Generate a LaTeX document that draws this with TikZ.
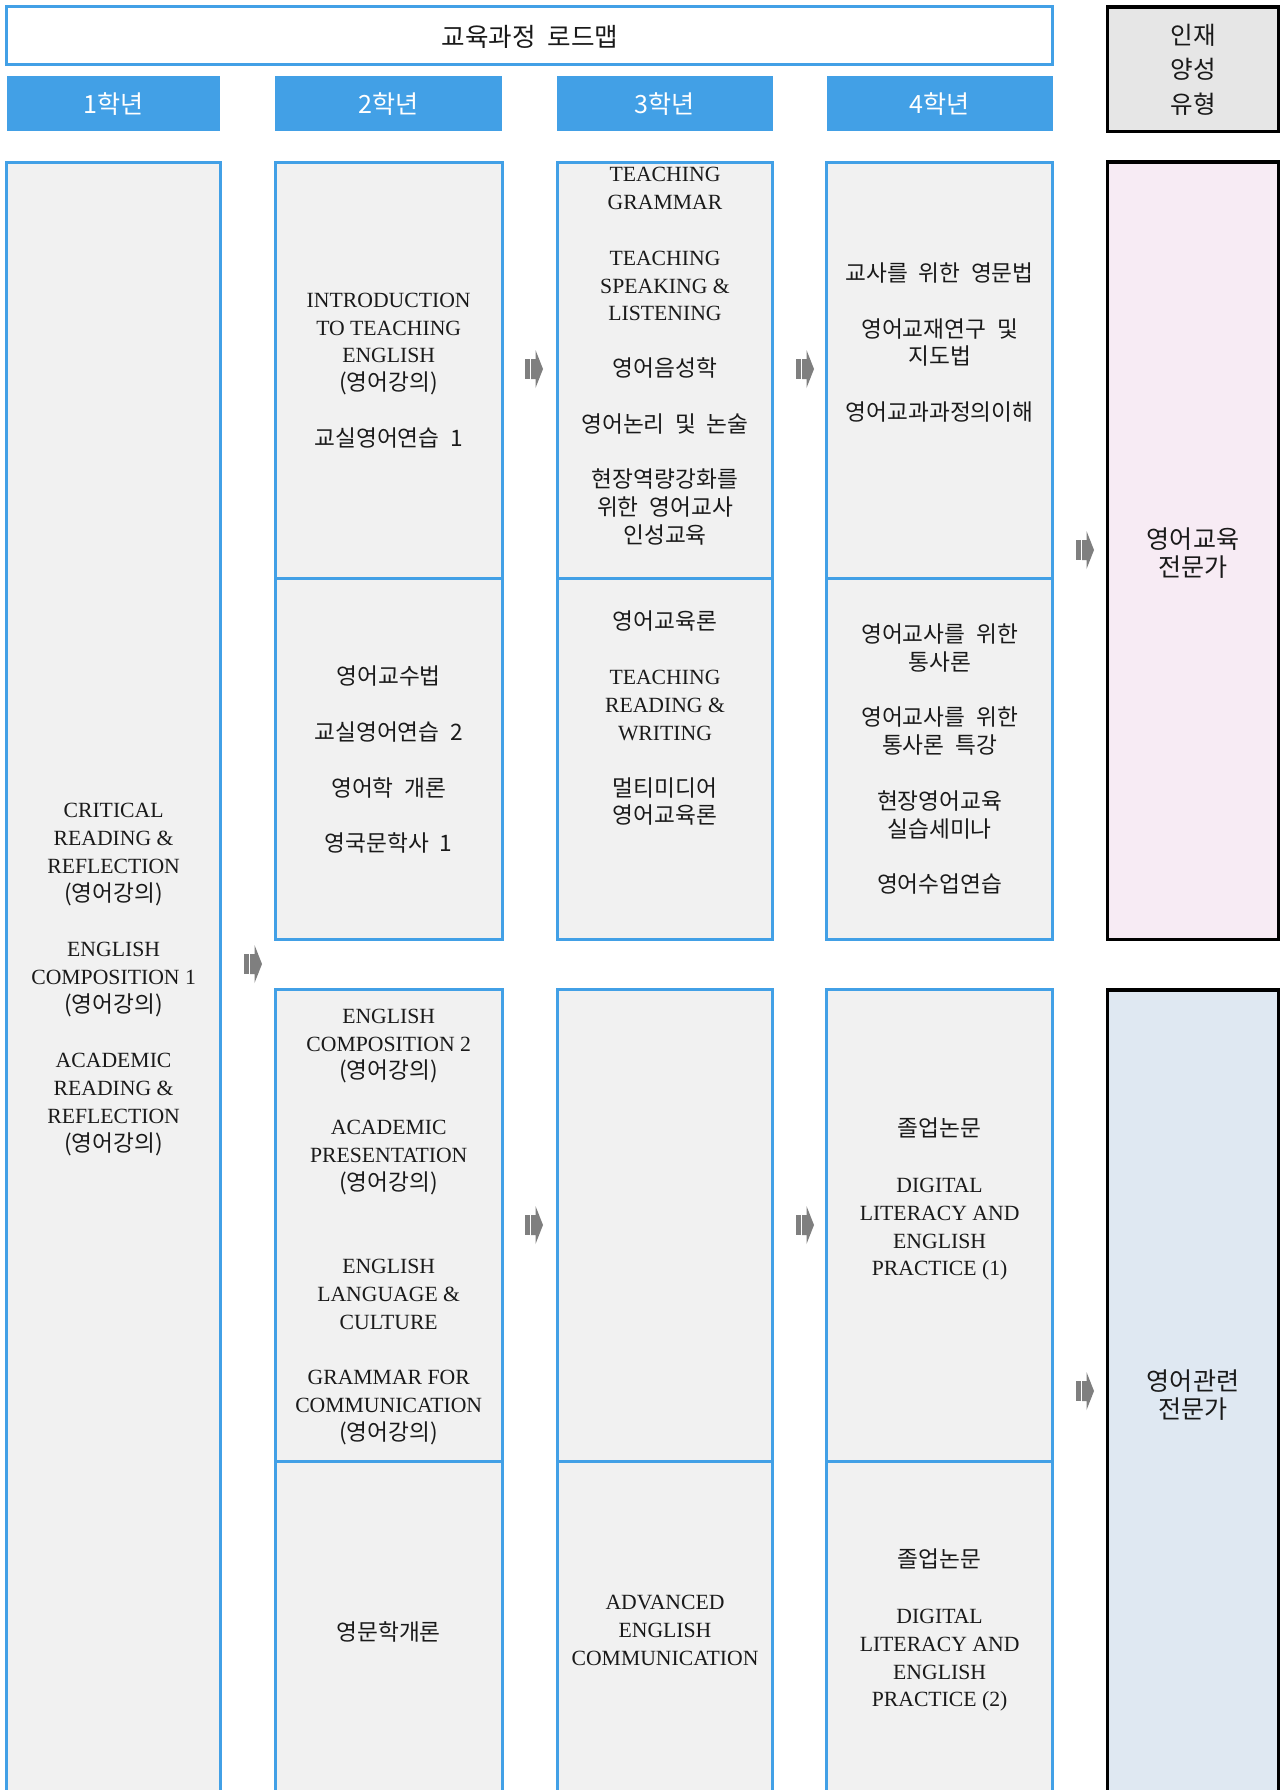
\documentclass[tikz,border=0pt]{standalone}
\usepackage{fontspec}
\setmainfont{Liberation Serif}
\newfontfamily\kr{Noto Sans CJK KR}[Scale=1.045, WordSpace=2.1]
\newcommand\kor[1]{{\kr #1}}
\definecolor{rblue}{HTML}{42A0E6}
\definecolor{boxgray}{HTML}{F1F1F1}
\definecolor{pinkbg}{HTML}{F7EBF4}
\definecolor{bluebg}{HTML}{DFE8F2}
\definecolor{headgray}{HTML}{E6E6E6}
\definecolor{arrgray}{HTML}{7F7F7F}
\definecolor{textc}{HTML}{1A1A1A}
\begin{document}
\begin{tikzpicture}[x=1pt,y=-1pt,
  every node/.style={inner sep=0pt},
  txt/.style={align=center, font=\fontsize{21.7}{27.8}\selectfont, text=textc},
  colbox/.style={draw=rblue, line width=3pt, fill=boxgray},
  hdr/.style={fill=rblue},
  hdrtxt/.style={text=white, font=\kr\fontsize{24}{28}\selectfont},
  outbox/.style={draw=black, line width=3.5pt},
  bigtxt/.style={align=center, text=textc, font=\kr\fontsize{24}{28}\selectfont},
  blockarr/.pic={
    \fill[arrgray] (0,-10) rectangle (5,10);
    \fill[arrgray] (6,-10) -- (10.5,-10) -- (10.5,-19) -- (18,0) -- (10.5,19) -- (10.5,10) -- (6,10) -- cycle;
  }
]
\useasboundingbox (0,0) rectangle (1281,1790);
\clip (0,0) rectangle (1281,1790);
\fill[white] (0,0) rectangle (1281,1790);

% title
\draw[draw=rblue, line width=3pt, fill=white] (6.85,7) rectangle (1052.6,65);
\node[hdrtxt, text=textc, font=\kr\fontsize{24.5}{28}\selectfont] (title) at (530,36.5) {교육과정 로드맵};

% year headers
\fill[hdr] (6.85,76.5) rectangle (220.3,131.3);
\fill[hdr] (275.1,76.5) rectangle (502.3,131.3);
\fill[hdr] (557.1,76.5) rectangle (772.9,131.3);
\fill[hdr] (826.6,76.5) rectangle (1052.6,131.3);
\node[hdrtxt] (y1) at (113.6,104) {1학년};
\node[hdrtxt] (y2) at (388.7,104) {2학년};
\node[hdrtxt] (y3) at (665,104) {3학년};
\node[hdrtxt] (y4) at (939.6,104) {4학년};

% type header
\draw[outbox, fill=headgray] (1107.4,7) rectangle (1278.7,131.3);
\node[bigtxt, font=\kr\fontsize{23.5}{34.3}\selectfont] (type) at (1193,69.6) {인재\\양성\\유형};

% column boxes
\draw[colbox] (6.85,162.1) rectangle (220.3,1810);
\foreach \xa/\xb in {275.1/502.3, 557.1/772.9, 826.6/1052.6}{
  \draw[colbox] (\xa,162.1) rectangle (\xb,578.8);
  \draw[colbox] (\xa,578.8) rectangle (\xb,939.6);
  \draw[colbox] (\xa,989.8) rectangle (\xb,1461.4);
  \draw[colbox] (\xa,1461.4) rectangle (\xb,1810);
}

% outcome boxes
\draw[outbox, fill=pinkbg] (1107.4,162.1) rectangle (1278.7,939.6);
\draw[outbox, fill=bluebg] (1107.4,989.8) rectangle (1278.7,1810);
\node[bigtxt] (edu) at (1193,552.6) {영어교육\\전문가};
\node[bigtxt] (rel) at (1193,1395) {영어관련\\전문가};

% column 1
\node[txt] (c1) at (113.6,979.6) {CRITICAL\\READING \&\\REFLECTION\\\kor{(영어강의)}\\[27.8pt]ENGLISH\\COMPOSITION 1\\\kor{(영어강의)}\\[27.8pt]ACADEMIC\\READING \&\\REFLECTION\\\kor{(영어강의)}};

% column 2
\node[txt] (c2a) at (388.7,370.5) {INTRODUCTION\\TO TEACHING\\ENGLISH\\\kor{(영어강의)}\\[27.8pt]\kor{교실영어연습 1}};
\node[txt] (c2b) at (388.7,759.8) {\kor{영어교수법}\\[27.8pt]\kor{교실영어연습 2}\\[27.8pt]\kor{영어학 개론}\\[27.8pt]\kor{영국문학사 1}};
\node[txt] (c2c) at (388.7,1226.8) {ENGLISH\\COMPOSITION 2\\\kor{(영어강의)}\\[27.8pt]ACADEMIC\\PRESENTATION\\\kor{(영어강의)}\\[55.6pt]ENGLISH\\LANGUAGE \&\\CULTURE\\[27.8pt]GRAMMAR FOR\\COMMUNICATION\\\kor{(영어강의)}};
\node[txt] (c2d) at (388.7,1631.5) {\kor{영문학개론}};

% column 3
\node[txt] (c3a) at (665,356.2) {TEACHING\\GRAMMAR\\[27.8pt]TEACHING\\SPEAKING \&\\LISTENING\\[27.8pt]\kor{영어음성학}\\[27.8pt]\kor{영어논리 및 논술}\\[27.8pt]\kor{현장역량강화를}\\\kor{위한 영어교사}\\\kor{인성교육}};
\node[txt] (c3b) at (665,718.1) {\kor{영어교육론}\\[27.8pt]TEACHING\\READING \&\\WRITING\\[27.8pt]\kor{멀티미디어}\\\kor{영어교육론}};
\node[txt] (c3d) at (665,1630.4) {ADVANCED\\ENGLISH\\COMMUNICATION};

% column 4
\node[txt] (c4a) at (939.6,342.5) {\kor{교사를 위한 영문법}\\[27.8pt]\kor{영어교재연구 및}\\\kor{지도법}\\[27.8pt]\kor{영어교과과정의이해}};
\node[txt] (c4b) at (939.6,759.2) {\kor{영어교사를 위한}\\\kor{통사론}\\[27.8pt]\kor{영어교사를 위한}\\\kor{통사론 특강}\\[27.8pt]\kor{현장영어교육}\\\kor{실습세미나}\\[27.8pt]\kor{영어수업연습}};
\node[txt] (c4c) at (939.6,1199.3) {\kor{졸업논문}\\[27.8pt]DIGITAL\\LITERACY AND\\ENGLISH\\PRACTICE (1)};
\node[txt] (c4d) at (939.6,1630.4) {\kor{졸업논문}\\[27.8pt]DIGITAL\\LITERACY AND\\ENGLISH\\PRACTICE (2)};

% block arrows
\pic at (244,964) {blockarr};
\pic at (525,369) {blockarr};
\pic at (525,1225) {blockarr};
\pic at (796,369) {blockarr};
\pic at (796,1225) {blockarr};
\pic at (1076,550) {blockarr};
\pic at (1076,1391) {blockarr};
\end{tikzpicture}
\end{document}
